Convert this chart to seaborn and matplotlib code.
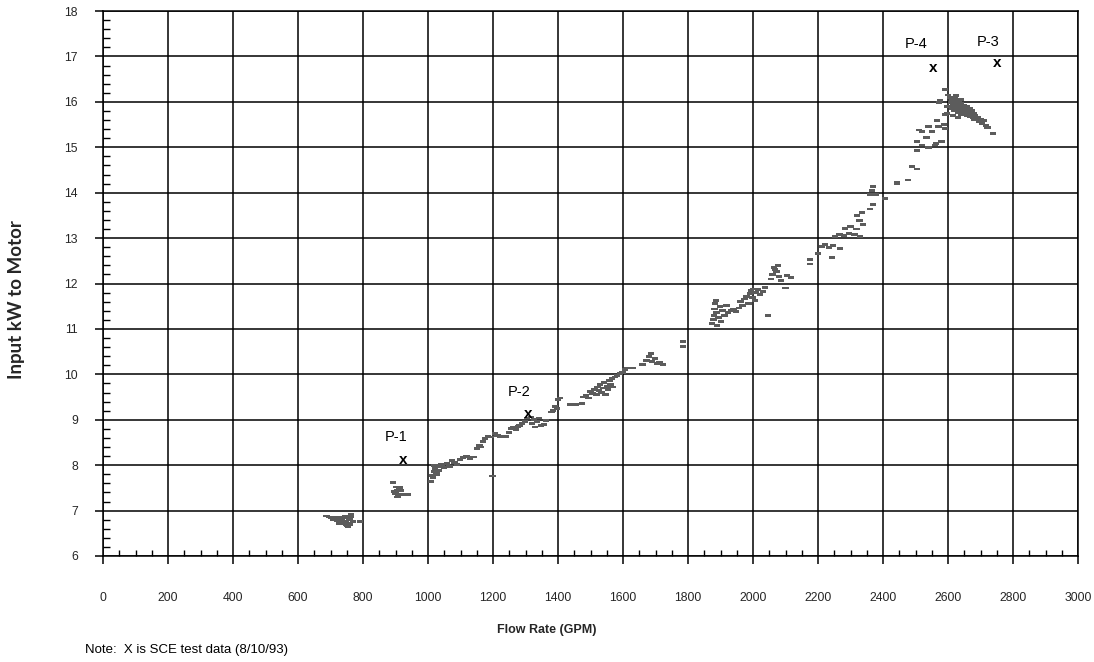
import matplotlib
matplotlib.use("Agg")
import matplotlib.pyplot as plt
import numpy as np
import pandas as pd
import seaborn as sns
from matplotlib.ticker import MultipleLocator
from matplotlib.path import Path
from matplotlib.markers import MarkerStyle

# ---------------- data ----------------
flow_gpm = [
    688, 695, 702, 708, 712, 718, 722, 728, 732, 736, 740, 744, 748, 752, 756, 758, 762, 764, 754, 748, 738, 770, 790, 728, 745, 760,
    892, 902, 912, 904, 896, 916, 900, 908, 922, 938, 906,
    1010, 1014, 1018, 1022, 1026, 1030, 1020, 1034, 1038, 1016, 1028, 1042, 1050, 1058, 1066, 1074, 1082, 1090, 1098, 1108,
    1118, 1130, 1140, 1150, 1158, 1164, 1170, 1176, 1184, 1192, 1199, 1206, 1214, 1222,
    1240, 1250, 1256, 1262, 1270, 1276, 1282, 1290, 1298, 1304, 1316, 1320, 1326, 1330, 1336, 1342, 1348, 1356, 1364,
    1385, 1390, 1396, 1400, 1406, 1380,
    1437, 1456, 1474, 1478, 1486, 1494, 1500, 1506, 1512, 1518, 1522, 1526, 1530, 1534, 1538, 1542, 1546, 1550, 1554, 1558,
    1562, 1566, 1570, 1576, 1582, 1590, 1598, 1606, 1614, 1630,
    1660, 1672, 1680, 1686, 1690, 1698, 1704, 1712, 1724, 1785, 1785,
    1874, 1878, 1880, 1882, 1884, 1886, 1888, 1890, 1894, 1898, 1902, 1906, 1912, 1918, 1924, 1932, 1940, 1948, 1956, 1962,
    1968, 1974, 1980, 1986, 1990, 1994, 1998, 2002, 2006, 2010, 2016, 2022, 2030, 2036, 2046, 2056, 2060, 2064, 2068, 2072,
    2076, 2080, 2086, 2104, 2116, 2100,
    2175, 2175, 2200, 2212, 2222, 2234, 2246, 2268, 2243, 2252, 2266, 2280, 2296, 2312, 2330, 2283, 2300, 2318, 2338, 2328,
    2320, 2335, 2360, 2369, 2369, 2366, 2360, 2378, 2406, 2443, 2477,
    2443, 2477, 2489, 2505, 2505, 2505, 2520, 2534, 2540, 2560, 2563, 2580,
    2511, 2520, 2540, 2550, 2566, 2571, 2588, 2590,
    2575, 2572, 2591, 2597, 2597, 2590, 2600,
    2606, 2610, 2612, 2614, 2616, 2618, 2620, 2622, 2624, 2626, 2628, 2630, 2632, 2634, 2636, 2638, 2640, 2642, 2644, 2646,
    2648, 2650, 2652, 2654, 2656, 2658, 2660, 2662, 2664, 2666, 2668, 2670, 2672, 2674, 2676, 2678, 2680, 2684, 2688, 2692,
    2696, 2700, 2704, 2710, 2716, 2722, 2738, 2625, 2640, 2615, 2630,
]
input_kw = [
    6.88, 6.86, 6.84, 6.80, 6.86, 6.82, 6.78, 6.84, 6.76, 6.80, 6.72, 6.84, 6.76, 6.68, 6.72, 6.80, 6.86, 6.92, 6.64, 6.70, 6.74, 6.76, 6.76, 6.72, 6.88, 6.70,
    7.62, 7.52, 7.50, 7.45, 7.42, 7.44, 7.38, 7.34, 7.36, 7.36, 7.30,
    7.64, 7.78, 7.86, 7.92, 7.80, 7.96, 8.00, 7.88, 7.98, 7.72, 7.84, 8.02, 7.94, 8.04, 7.98, 8.10, 8.06, 8.02, 8.12, 8.16,
    8.20, 8.14, 8.18, 8.36, 8.44, 8.40, 8.52, 8.58, 8.64, 8.62, 7.76, 8.70, 8.66, 8.64,
    8.64, 8.72, 8.80, 8.84, 8.78, 8.86, 8.88, 8.92, 8.96, 9.04, 9.06, 8.92, 9.00, 8.84, 8.96, 9.04, 8.88, 8.90, 8.98,
    9.20, 9.30, 9.24, 9.44, 9.48, 9.17,
    9.33, 9.34, 9.36, 9.50, 9.54, 9.48, 9.62, 9.58, 9.66, 9.56, 9.72, 9.64, 9.78, 9.60, 9.70, 9.82, 9.56, 9.74, 9.66, 9.86,
    9.78, 9.90, 9.72, 9.94, 9.98, 10.02, 10.04, 10.10, 10.14, 10.14,
    10.22, 10.30, 10.40, 10.46, 10.28, 10.34, 10.24, 10.26, 10.22, 10.62, 10.72,
    11.12, 11.20, 11.30, 11.44, 11.56, 11.62, 11.36, 11.08, 11.26, 11.50, 11.16, 11.40, 11.30, 11.52, 11.36, 11.40, 11.44, 11.38, 11.46, 11.60,
    11.52, 11.66, 11.72, 11.56, 11.78, 11.84, 11.70, 11.88, 11.62, 11.80, 11.86, 11.76, 11.82, 11.92, 11.30, 12.10, 12.20, 12.36, 12.30, 12.26,
    12.40, 12.16, 12.06, 12.18, 12.14, 11.90,
    12.52, 12.43, 12.67, 12.82, 12.86, 12.80, 12.84, 12.78, 12.57, 13.04, 13.08, 13.06, 13.10, 13.08, 13.04, 13.22, 13.26, 13.20, 13.30, 13.38,
    13.50, 13.56, 13.64, 13.73, 14.13, 14.05, 13.96, 13.96, 13.88, 14.22, 14.28,
    14.20, 14.28, 14.57, 14.52, 14.92, 15.12, 15.05, 15.22, 14.99, 15.05, 15.09, 15.12,
    15.38, 15.35, 15.45, 15.35, 15.58, 15.45, 15.50, 15.42,
    16.02, 15.98, 16.28, 15.90, 15.75, 15.72, 16.15,
    16.10, 15.98, 15.86, 16.04, 15.92, 15.80, 16.08, 15.96, 15.88, 16.02, 15.84, 15.94, 15.76, 16.00, 15.90, 15.82, 15.96, 15.72, 15.88, 15.80,
    15.92, 15.86, 15.74, 15.84, 15.78, 15.90, 15.70, 15.82, 15.76, 15.86, 15.68, 15.78, 15.72, 15.80, 15.66, 15.74, 15.62, 15.70, 15.60, 15.66,
    15.56, 15.62, 15.52, 15.58, 15.48, 15.44, 15.30, 16.14, 16.06, 15.70, 15.66,
]

test_labels = ["P-1", "P-2", "P-3", "P-4"]
test_gpm = [923, 1307, 2750, 2554]
test_kw = [8.12, 9.12, 16.86, 16.75]

x_ticks = list(range(0, 3001, 200))
y_ticks = list(range(6, 19))

# ---------------- plot ----------------
sns.set_style("white")
plt.rcParams["font.family"] = ["Liberation Sans", "DejaVu Sans"]

fig = plt.figure(figsize=(10.94, 6.62), dpi=100)
ax = fig.add_axes([103 / 1094, 1 - 556 / 662, 975 / 1094, 545 / 662])

df = pd.DataFrame({"Flow Rate (GPM)": flow_gpm, "Input kW to Motor": input_kw})
dash = MarkerStyle(Path([(-1, -0.45), (1, -0.45), (1, 0.45), (-1, 0.45), (-1, -0.45)], closed=True))
sns.scatterplot(data=df, x="Flow Rate (GPM)", y="Input kW to Motor", marker=dash, s=21,
                color="#5c5c5c", edgecolor="none", linewidth=0, ax=ax, zorder=3, legend=False)

label_offsets = [(-5, 16), (-6, 16), (-6, 15), (-12, 17)]
for name, gx, ky, off in zip(test_labels, test_gpm, test_kw, label_offsets):
    ax.text(gx, ky, "x", ha="center", va="center", fontsize=11, fontweight="bold",
            color="black", zorder=4)
    ax.annotate(name, (gx, ky), xytext=off, textcoords="offset points",
                ha="center", va="center", fontsize=10.5, color="black", zorder=4)

ax.set_xlim(0, 3000)
ax.set_ylim(6, 18)
ax.set_xticks(x_ticks)
ax.set_yticks(y_ticks)
ax.xaxis.set_minor_locator(MultipleLocator(50))
ax.yaxis.set_minor_locator(MultipleLocator(0.2))
ax.grid(True, which="major", color="black", linewidth=1.1)
ax.set_axisbelow(True)
for sp in ax.spines.values():
    sp.set_color("black")
    sp.set_linewidth(1.1)

ax.tick_params(axis="both", which="both", bottom=True, left=True, color="black")
ax.tick_params(axis="x", which="major", direction="out", length=6, width=1.1, pad=20, labelsize=8.8)
ax.tick_params(axis="x", which="minor", direction="in", length=4, width=1.0)
ax.tick_params(axis="y", which="major", direction="out", length=6, width=1.1, pad=12, labelsize=8.8)
ax.tick_params(axis="y", which="minor", direction="in", length=5, width=1.0)

ax.set_xlabel("Flow Rate (GPM)", fontsize=9, fontweight="bold")
ax.xaxis.set_label_coords(0.455, -0.125)
ax.set_ylabel("Input kW to Motor", fontsize=13.5, fontweight="bold", family=["Lato", "DejaVu Sans"])
ax.yaxis.set_label_coords(-0.08, 0.47)

fig.text(85 / 1094, 1 - 650 / 662, "Note:  X is SCE test data (8/10/93)", fontsize=9.5,
         ha="left", va="center", color="black")

fig.savefig("out.png", dpi=100)
